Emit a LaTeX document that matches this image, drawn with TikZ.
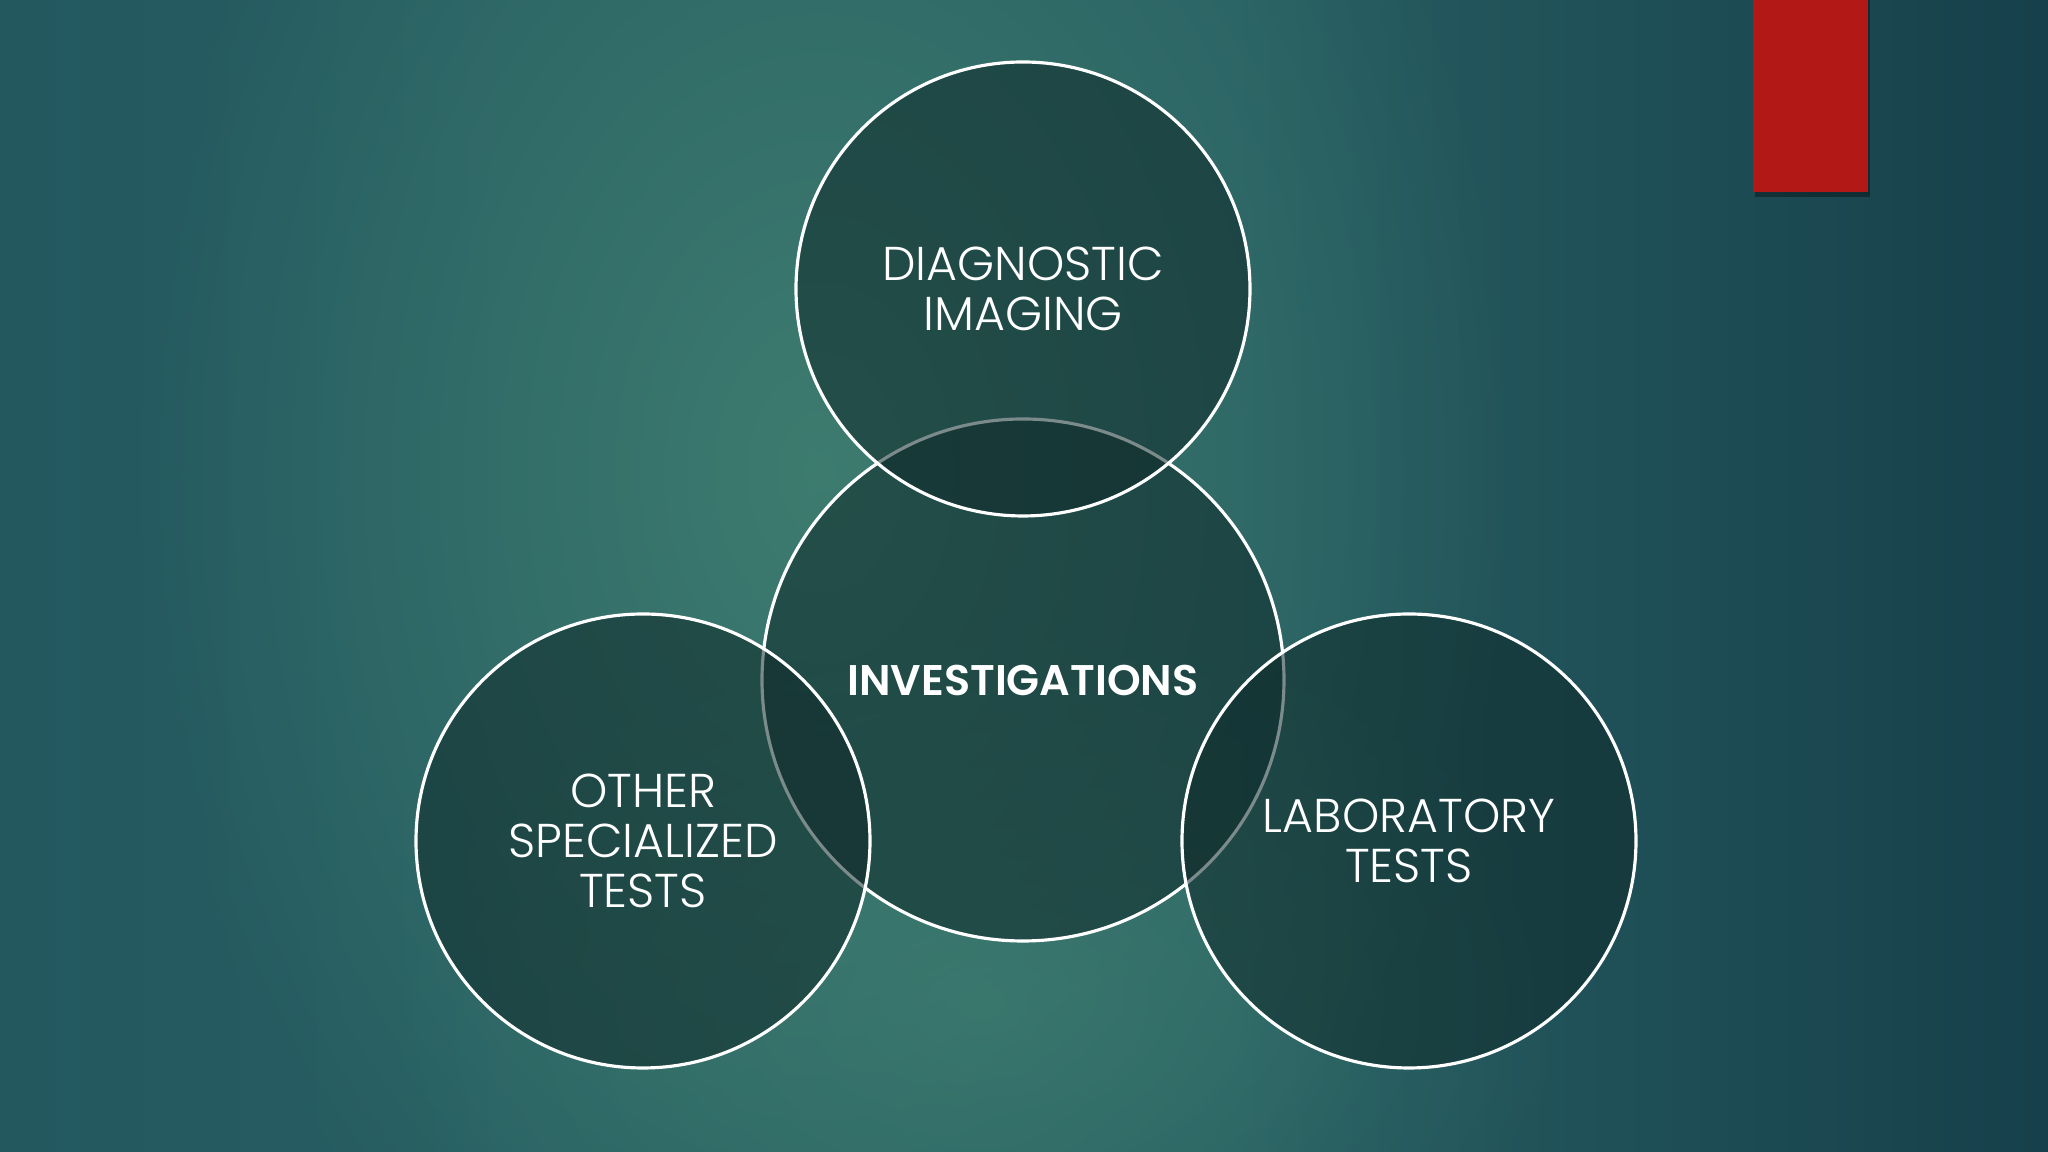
\documentclass[tikz,border=0pt]{standalone}
\usepackage{fontspec}
\setmainfont{Poppins}[UprightFont=* Light,BoldFont=* SemiBold]
\usetikzlibrary{fadings}
\definecolor{bgleft}{HTML}{1B4C5A}
\definecolor{bgmid}{HTML}{275E62}
\definecolor{bgright}{HTML}{123845}
\definecolor{bglight}{HTML}{438373}
\definecolor{disc}{HTML}{0F2A2A}
\definecolor{tab}{HTML}{B21815}
\pgfdeclarehorizontalshading{slidebg}{100bp}{color(0bp)=(bgleft); color(38bp)=(bgmid); color(55bp)=(bgmid); color(80bp)=(bgright); color(100bp)=(bgright)}
\tikzfading[name=glow,inner color=transparent!0,outer color=transparent!100]

\begin{document}
\begin{tikzpicture}[node distance=3.91cm,
  area/.style={circle,draw=white,line width=0.9pt,fill=disc,fill opacity=0.55,text opacity=1,
    minimum size=4.54cm,inner sep=0pt,align=center,text=white,font=\fontsize{13.5}{14.2}\selectfont}]
  \useasboundingbox (0,0) rectangle (20.48,11.52);
  % background
  \shade[shading=slidebg] (0,0) rectangle (20.48,11.52);
  \fill[bglight,path fading=glow,opacity=0.8] (8.2,6.8) ellipse (7 and 10);
  \fill[bglight,path fading=glow,opacity=0.5] (9.8,1.5) ellipse (6 and 4);
  % red tab
  \fill[black,opacity=0.35] (17.55,9.55) rectangle (18.70,11.52);
  \fill[tab] (17.53,9.60) rectangle (18.68,11.52);

  \node[area,minimum size=5.22cm,font=\fontsize{12.2}{14.2}\selectfont\bfseries] (inv) at (10.23,4.72) {INVESTIGATIONS};
  \node[area] (img) [above of=inv] {DIAGNOSTIC\\IMAGING};
  \node[area] (oth) [below of=inv,node distance=1.61cm,xshift=-3.8cm] {OTHER\\SPECIALIZED\\TESTS};
  \node[area] (lab) [below of=inv,node distance=1.61cm,xshift=3.86cm] {LABORATORY\\TESTS};
\end{tikzpicture}
\end{document}
